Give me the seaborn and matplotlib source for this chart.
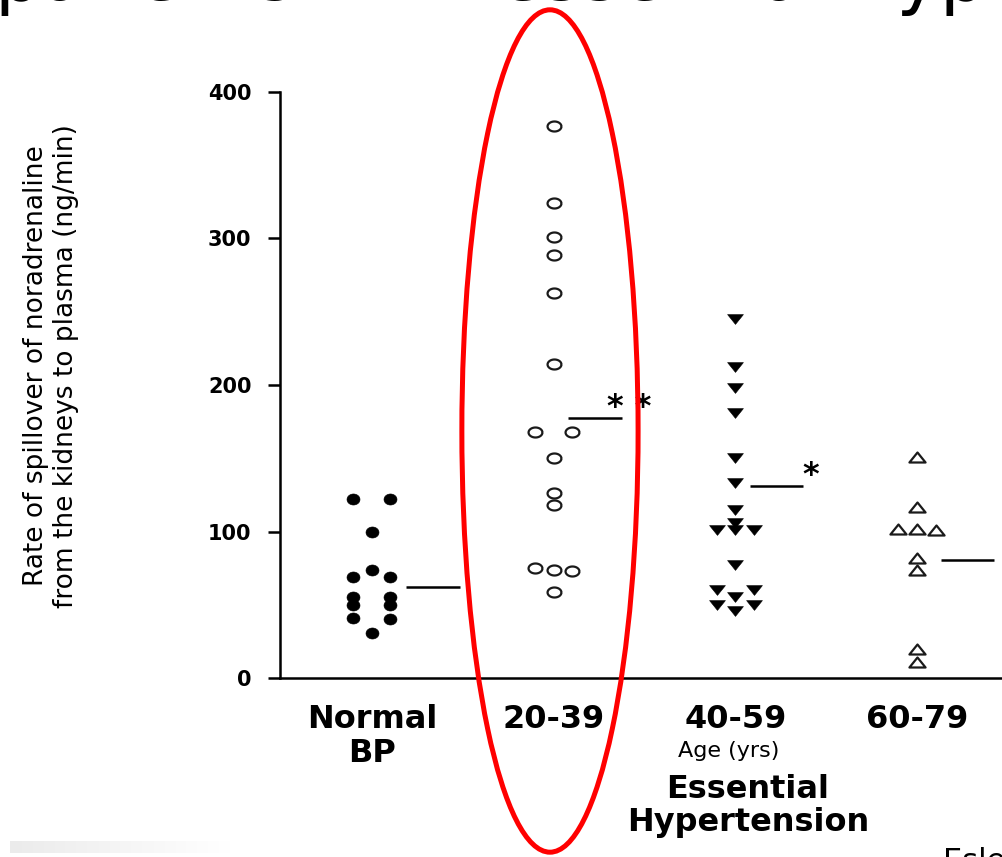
import numpy as np
import pandas as pd
import matplotlib
matplotlib.use("Agg")
import matplotlib.pyplot as plt
from matplotlib.path import Path
from matplotlib.patches import Ellipse
from matplotlib.colors import LinearSegmentedColormap
import seaborn as sns

sns.set_theme(style="ticks")
plt.rcParams['font.family'] = ['DejaVu Sans']
plt.rcParams['text.color'] = 'black'

# === values (ng/min) ===
groups = ["Normal\nBP", "20-39", "40-59", "60-79"]
normal_bp = [122, 122, 100, 74, 69, 69, 55, 55, 50, 50, 41, 40, 31]
age_20_39 = [377, 324, 301, 289, 263, 214, 168, 168, 150, 126, 118, 75, 74, 73, 59]
age_40_59 = [245, 212, 198, 181, 150, 133, 115, 106, 101, 101, 101, 77, 60, 60, 55, 50, 50, 46]
age_60_79 = [151, 117, 102, 102, 101, 82, 74, 20, 11]
group_means = [62, 177.5, 131, 80.5]
sig_marks = ["", "* *", "*", ""]
y_ticks = [0, 100, 200, 300, 400]


def lanes(values, tol=2.5):
    # points with (nearly) equal values sit side by side in one row
    values = np.asarray(values, dtype=float)
    order = np.argsort(-values, kind="stable")
    out = np.zeros(len(values))
    rows, cur = [], [order[0]]
    for i in order[1:]:
        if values[cur[-1]] - values[i] <= tol:
            cur.append(i)
        else:
            rows.append(cur)
            cur = [i]
    rows.append(cur)
    for row in rows:
        out[row] = np.linspace(-1, 1, len(row)) if len(row) > 1 else 0.0
    return out


frames = []
for i, vals in enumerate([normal_bp, age_20_39, age_40_59, age_60_79]):
    frames.append(pd.DataFrame({"group": groups[i], "value": vals,
                                "x": i + lanes(vals) * 0.102}))
df = pd.concat(frames, ignore_index=True)

# marker shapes (slightly wide, like the slide)
t = np.linspace(0, 2 * np.pi, 41)
dot = Path(np.column_stack([np.cos(t), 0.85 * np.sin(t)]))
ring = Path(np.column_stack([np.cos(t), 0.72 * np.sin(t)]))
tri_down = Path([(-1, 0.62), (1, 0.62), (0, -0.62), (-1, 0.62)], closed=True)
tri_up = Path([(-1, -0.62), (1, -0.62), (0, 0.62), (-1, -0.62)], closed=True)

styles = [
    dict(marker=dot, s=88, color="black", edgecolor="black", linewidth=0.4),
    dict(marker=ring, s=100, facecolor="white", edgecolor="#1a1a1a", linewidth=1.6),
    dict(marker=tri_down, s=130, color="black", edgecolor="black", linewidth=0.4),
    dict(marker=tri_up, s=135, facecolor="white", edgecolor="#1a1a1a", linewidth=1.6),
]

W, H = 1002, 857
fig = plt.figure(figsize=(W / 100, H / 100), dpi=100)
ax = fig.add_axes([280 / W, 179 / H, 722 / W, 586 / H])

for g, st in zip(groups, styles):
    sns.scatterplot(data=df[df.group == g], x="x", y="value", ax=ax,
                    legend=False, zorder=3, clip_on=False, **st)

# group mean bars and significance stars
mean_start = [0.19, 0.08, 0.08, 0.13]
for i, (m, x0, mark) in enumerate(zip(group_means, mean_start, sig_marks)):
    ax.hlines(m, i + x0, i + x0 + 0.295, color="black", lw=1.8, zorder=3)
    if mark:
        ax.text(i + x0 + 0.295 + 0.04, m + 7, mark, fontsize=23, ha="center",
                va="center", color="black", fontweight="bold")

ax.set_xlim(-0.506, 3.468)
ax.set_ylim(0, 400)
ax.set_yticks(y_ticks)
ax.set_yticklabels([str(v) for v in y_ticks], fontweight="bold", fontsize=15)
ax.set_xticks(range(len(groups)))
ax.set_xticklabels(groups, fontweight="bold", fontsize=23)
for lbl in ax.get_xticklabels():
    lbl.set_linespacing(1.1)
ax.tick_params(axis="y", length=8.6, width=1.8, pad=12, colors="black")
ax.tick_params(axis="x", length=0, pad=19, colors="black")
ax.set_xlabel("")
ax.set_ylabel("")
sns.despine(ax=ax)
for side in ["left", "bottom"]:
    ax.spines[side].set_linewidth(1.8)
    ax.spines[side].set_color("black")

fig.text(51 / W, 1 - 366 / H,
         "Rate of spillover of noradrenaline\nfrom the kidneys to plasma (ng/min)",
         rotation=90, ha="center", va="center", fontsize=19,
         multialignment="center", color="black")

fig.text(729 / W, 1 - 751 / H, "Age (yrs)", ha="center", va="center",
         fontsize=16, color="black")
fig.text(748 / W, 1 - 790 / H, "Essential", ha="center", va="center",
         fontsize=23, fontweight="bold", color="black")
fig.text(748 / W, 1 - 822 / H, "Hypertension", ha="center", va="center",
         fontsize=23, fontweight="bold", color="black")

# slide title, mostly cut off at the top
fig.text(-5 / W, 1.0, "patients with essential hypertension",
         fontsize=53, ha="left", va="baseline", color="black")
# reference, cut off at the bottom
fig.text(943 / W, 1 - 847 / H, "Esler et al.", fontsize=22, ha="left",
         va="top", color="black")

# faint grey strip at the bottom left
gax = fig.add_axes([10 / W, 1 - 853 / H, 220 / W, 12 / H])
grey = LinearSegmentedColormap.from_list("g", ["#ebebeb", "#ffffff"])
gax.imshow(np.linspace(0, 1, 200)[None, :], cmap=grey, aspect="auto")
gax.axis("off")

# red highlight around the 20-39 group
ax.add_patch(Ellipse((0.98, 168.6), width=0.97, height=575, fill=False,
                     edgecolor="#ff0000", lw=3.6, clip_on=False, zorder=5))

fig.savefig("out.png", dpi=100)
